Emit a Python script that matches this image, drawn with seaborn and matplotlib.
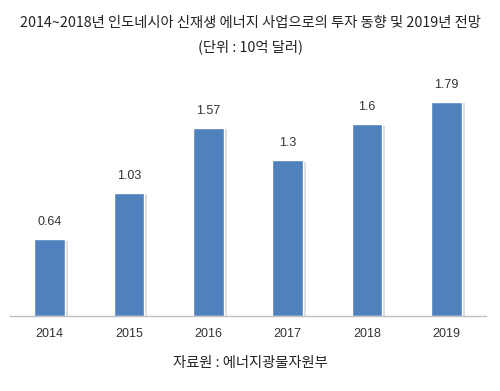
import matplotlib
matplotlib.use("Agg")
import matplotlib.pyplot as plt
import matplotlib.patheffects as pe
import seaborn as sns
import pandas as pd

years = ["2014", "2015", "2016", "2017", "2018", "2019"]
invest = [0.64, 1.03, 1.57, 1.3, 1.6, 1.79]
value_labels = ["0.64", "1.03", "1.57", "1.3", "1.6", "1.79"]

title = "2014~2018년 인도네시아 신재생 에너지 사업으로의 투자 동향 및 2019년 전망"
subtitle = "(단위 : 10억 달러)"
source = "자료원 : 에너지광물자원부"

df = pd.DataFrame({"year": years, "invest": invest})

sns.set_theme(style="white")
plt.rcParams['font.family'] = ['Noto Sans CJK KR', 'DejaVu Sans']

fig = plt.figure(figsize=(5, 3.91), dpi=100)
ax = fig.add_axes([0.02, 0.192, 0.952, 0.603])

sns.barplot(data=df, x="year", y="invest", color="#4F81BD", saturation=1,
            width=0.39, ax=ax)

# Excel 스타일 그림자
for bar in ax.patches:
    bar.set_path_effects([pe.SimplePatchShadow(offset=(2, -1), shadow_rgbFace="#999999", alpha=0.35),
                          pe.Normal()])

for i, (v, lab) in enumerate(zip(invest, value_labels)):
    ax.annotate(lab, (i, v), xytext=(0, 8), textcoords="offset points",
                ha="center", va="bottom", fontsize=9, color="#333333",
                family=['Liberation Sans', 'DejaVu Sans'])

ax.set_ylim(0, 1.97)
ax.set_xlim(-0.5, 5.5)
ax.set_yticks([])
ax.set_xlabel("")
ax.set_ylabel("")
for s in ["top", "left", "right"]:
    ax.spines[s].set_visible(False)
ax.spines["bottom"].set_color("#BFBFBF")
ax.spines["bottom"].set_linewidth(1)
ax.tick_params(axis="x", length=0, pad=9, labelsize=9, colors="#333333")
for t in ax.get_xticklabels():
    t.set_family(['Liberation Sans', 'DejaVu Sans'])

fig.text(0.5, 1 - 23 / 391, title, ha="center", va="center", fontsize=10.3, color="#222222")
fig.text(0.5, 1 - 47 / 391, subtitle, ha="center", va="center", fontsize=10.3, color="#222222")
fig.text(0.5, 1 - 363 / 391, source, ha="center", va="center", fontsize=10.3, color="#222222")

fig.savefig("out.png", dpi=100)
